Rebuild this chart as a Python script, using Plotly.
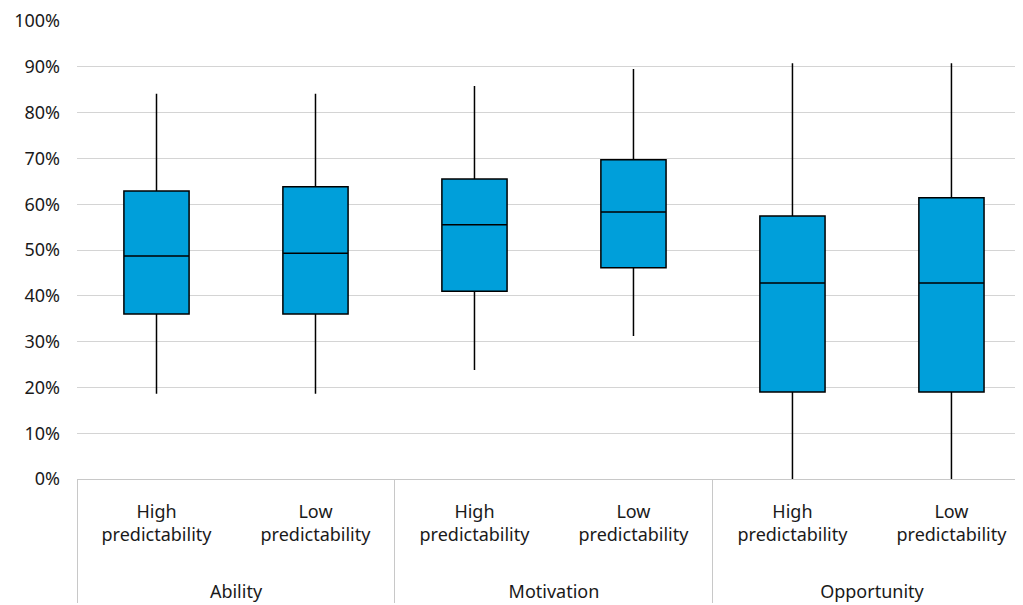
import plotly.graph_objects as go

groups = ["Ability", "Ability", "Motivation", "Motivation", "Opportunity", "Opportunity"]
subs = ["High<br>predictability<br> <br> ", "Low<br>predictability<br> <br> "] * 3
lower = [0.186, 0.186, 0.238, 0.312, 0.0, 0.0]
q1 = [0.360, 0.360, 0.410, 0.461, 0.190, 0.190]
median = [0.487, 0.493, 0.555, 0.583, 0.428, 0.428]
q3 = [0.629, 0.638, 0.655, 0.697, 0.574, 0.614]
upper = [0.841, 0.841, 0.858, 0.895, 0.908, 0.908]

FONT = "Noto Sans"
positions = list(range(len(groups)))
XRANGE = [-0.5, 5.45]

fig = go.Figure()
# invisible trace that carries the two-level category axis
fig.add_trace(go.Scatter(
    x=[groups, subs], y=median, mode="markers",
    marker=dict(opacity=0), hoverinfo="skip", showlegend=False,
    xaxis="x", yaxis="y",
))
fig.add_trace(go.Box(
    x=positions,
    q1=q1, median=median, q3=q3,
    lowerfence=lower, upperfence=upper,
    fillcolor="#009FDA",
    line=dict(color="#000000", width=1.5),
    whiskerwidth=0,
    boxpoints=False,
    width=0.41,
    showlegend=False,
    xaxis="x2", yaxis="y",
))

fig.update_layout(
    width=1023, height=605,
    margin=dict(l=69, r=8, t=13, b=134, autoexpand=False),
    plot_bgcolor="white", paper_bgcolor="white",
    font=dict(family=FONT, size=18, color="#1a1a1a"),
    xaxis=dict(
        type="multicategory", range=XRANGE,
        showline=True, linecolor="#c8c8c8", linewidth=1,
        showdividers=True, dividercolor="#c8c8c8", dividerwidth=1,
        showgrid=False, ticks="", tickfont=dict(size=18),
        ticklabelstandoff=16,
        automargin=False,
    ),
    xaxis2=dict(
        overlaying="x", range=XRANGE, visible=False,
    ),
    yaxis=dict(
        range=[0, 1], dtick=0.1, tickformat=".0%",
        showgrid=True, gridcolor="#d4d4d4", gridwidth=1,
        zeroline=False, showline=False,
        tickfont=dict(size=18), ticklabelstandoff=16,
        automargin=False,
    ),
)
fig.write_html("out.html")
